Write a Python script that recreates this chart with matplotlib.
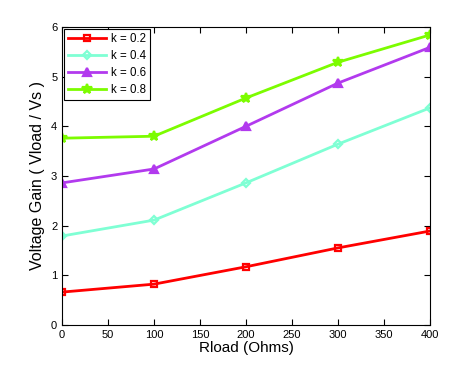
import matplotlib
matplotlib.use("Agg")
import matplotlib.pyplot as plt

plt.rcParams["font.family"] = ["Liberation Sans", "DejaVu Sans"]

rload = [0, 100, 200, 300, 400]
gain_k02 = [0.66, 0.82, 1.17, 1.55, 1.89]
gain_k04 = [1.79, 2.11, 2.86, 3.64, 4.37]
gain_k06 = [2.86, 3.14, 4.00, 4.87, 5.59]
gain_k08 = [3.76, 3.80, 4.57, 5.29, 5.84]

labels = ["k = 0.2", "k = 0.4", "k = 0.6", "k = 0.8"]
colors = ["#ff0000", "#7fffd4", "#b23aee", "#7cfc00"]
markers = ["s", "D", "^", "*"]

fig = plt.figure(figsize=(4.74, 3.65), dpi=100)
ax = fig.add_axes([0.131, 0.11, 0.776, 0.816])

series = [gain_k02, gain_k04, gain_k06, gain_k08]
sizes = {"s": 4.5, "D": 4, "^": 5.5, "*": 7}
for vals, lab, col, mk in zip(series, labels, colors, markers):
    face = "none" if mk in ("s", "D") else col
    ax.plot(rload, vals, color=col, marker=mk, linewidth=2,
            markersize=sizes[mk], markerfacecolor=face,
            markeredgecolor=col, markeredgewidth=1.6, label=lab)

ax.set_xlim(0, 400)
ax.set_ylim(0, 6)
ax.set_xticks(range(0, 401, 50))
ax.set_yticks(range(0, 7))
ax.tick_params(direction="in", top=True, right=True, labelsize=8, length=4)

ax.set_xlabel("Rload (Ohms)", fontsize=11, labelpad=1)
ax.set_ylabel("Voltage Gain ( Vload / Vs )", fontsize=11.5, labelpad=4)

leg = ax.legend(loc="upper left", fontsize=8.3, handlelength=3.3,
                fancybox=False, borderaxespad=0.2, labelspacing=0.42,
                framealpha=1, edgecolor="black", borderpad=0.35,
                handletextpad=0.4)
leg.get_frame().set_linewidth(0.8)

fig.savefig("out.png", dpi=100)
plt.close(fig)
